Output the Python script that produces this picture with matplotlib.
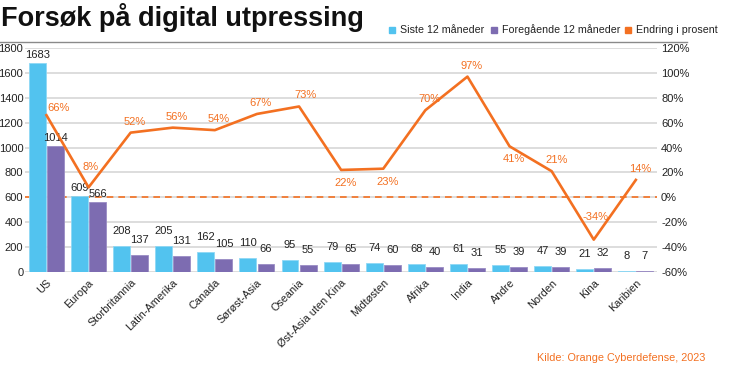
import matplotlib
matplotlib.use("Agg")
import matplotlib.pyplot as plt
from matplotlib.lines import Line2D
from matplotlib.patches import Rectangle

plt.rcParams['font.family'] = ['Liberation Sans', 'DejaVu Sans']

categories = ["US", "Europa", "Storbritannia", "Latin-Amerika", "Canada", "Sørøst-Asia",
              "Oseania", "Øst-Asia uten Kina", "Midtøsten", "Afrika", "India", "Andre",
              "Norden", "Kina", "Karibien"]
siste = [1683, 609, 208, 205, 162, 110, 95, 79, 74, 68, 61, 55, 47, 21, 8]
foregaende = [1014, 566, 137, 131, 105, 66, 55, 65, 60, 40, 31, 39, 39, 32, 7]
endring = [66, 8, 52, 56, 54, 67, 73, 22, 23, 70, 97, 41, 21, -34, 14]
left_ticks = list(range(0, 1801, 200))
right_ticks = list(range(-60, 121, 20))

BLUE = "#52C3EF"
PURPLE = "#7D6CB1"
ORANGE = "#F37021"
TXT = "#222222"

W, H = 746, 375
fig = plt.figure(figsize=(W / 100, H / 100), dpi=100)
ax = fig.add_axes([25.4 / W, 1 - 272 / H, 631.5 / W, 224 / H])

x = list(range(len(categories)))
bw = 0.40
off = 0.215
xb = [i - off for i in x]
xp = [i + off for i in x]

ax.axhline(600, color=ORANGE, lw=1.2, ls=(0, (4, 3)), zorder=1)
ax.bar(xb, siste, width=bw, color=BLUE, edgecolor="#8ED8F5", linewidth=0.6, zorder=2)
ax.bar(xp, foregaende, width=bw, color=PURPLE, edgecolor="#9A8CC4", linewidth=0.6, zorder=2)

for xi, v in zip(xb, siste):
    dy = 8 if v > 500 else 15
    ax.annotate(str(v), (xi, v), xytext=(0, dy * 0.72), textcoords="offset points",
                ha="center", va="center", fontsize=8, color=TXT, zorder=5)
for xi, v in zip(xp, foregaende):
    dy = 8 if v > 500 else 15
    ax.annotate(str(v), (xi, v), xytext=(0, dy * 0.72), textcoords="offset points",
                ha="center", va="center", fontsize=8, color=TXT, zorder=5)

ax.set_xlim(-0.5, 14.5)
ax.set_ylim(0, 1800)
ax.set_yticks(left_ticks)
ax.yaxis.grid(True, color="#DADADA", lw=1.3)
ax.set_axisbelow(True)
for s in ax.spines.values():
    s.set_visible(False)
ax.tick_params(axis="y", length=0, pad=1.5, labelsize=8, labelcolor=TXT)
ax.tick_params(axis="x", length=0, pad=4)
ax.set_xticks(x)
ax.set_xticklabels(categories, rotation=45, ha="right", va="top",
                   rotation_mode="anchor", fontsize=7.8, color=TXT)

ax2 = ax.twinx()
ax2.set_ylim(-60, 120)
ax2.set_yticks(right_ticks)
ax2.set_yticklabels([f"{t}%" for t in right_ticks])
ax2.tick_params(axis="y", length=0, pad=3, labelsize=8, labelcolor=TXT)
for s in ax2.spines.values():
    s.set_visible(False)
ax2.plot(x, endring, color=ORANGE, lw=1.9, zorder=4)

below = {7, 8, 11}
dx_px = {0: 12, 1: 2, 6: 6, 10: 4, 12: 5, 13: 2, 14: 4}
for i, v in enumerate(endring):
    if i in below:
        dy = -13
    elif i == 13:
        dy = 23
    elif i == 1:
        dy = 20
    else:
        dy = 11
    if i == 0:
        dy = 7
    dx = dx_px.get(i, 4)
    ax2.annotate(f"{v}%", (i, v), xytext=(dx * 0.72, dy * 0.72), textcoords="offset points",
                 ha="center", va="center", fontsize=8, color=ORANGE, zorder=6)

# Title
fig.text(1 / W, 1 - 17 / H, "Forsøk på digital utpressing", fontsize=19.5, fontweight="bold",
         color="#111111", ha="left", va="center")

# Top rule
fig.add_artist(Line2D([0, 687 / W], [1 - 42 / H, 1 - 42 / H], color="#8A8A8A", lw=1.0))

# Legend
leg_items = [("Siste 12 måneder", BLUE, 389), ("Foregående 12 måneder", PURPLE, 491),
             ("Endring i prosent", ORANGE, 625)]
for label, col, px in leg_items:
    fig.add_artist(Rectangle((px / W, 1 - 33 / H), 6 / W, 6 / H, color=col,
                             transform=fig.transFigure))
    fig.text((px + 11) / W, 1 - 30 / H, label, fontsize=7.7, color=TXT, ha="left", va="center")

fig.text(537 / W, 1 - 358 / H, "Kilde: Orange Cyberdefense, 2023", fontsize=7.8,
         color=ORANGE, ha="left", va="center")

fig.savefig("out.png", dpi=100)
